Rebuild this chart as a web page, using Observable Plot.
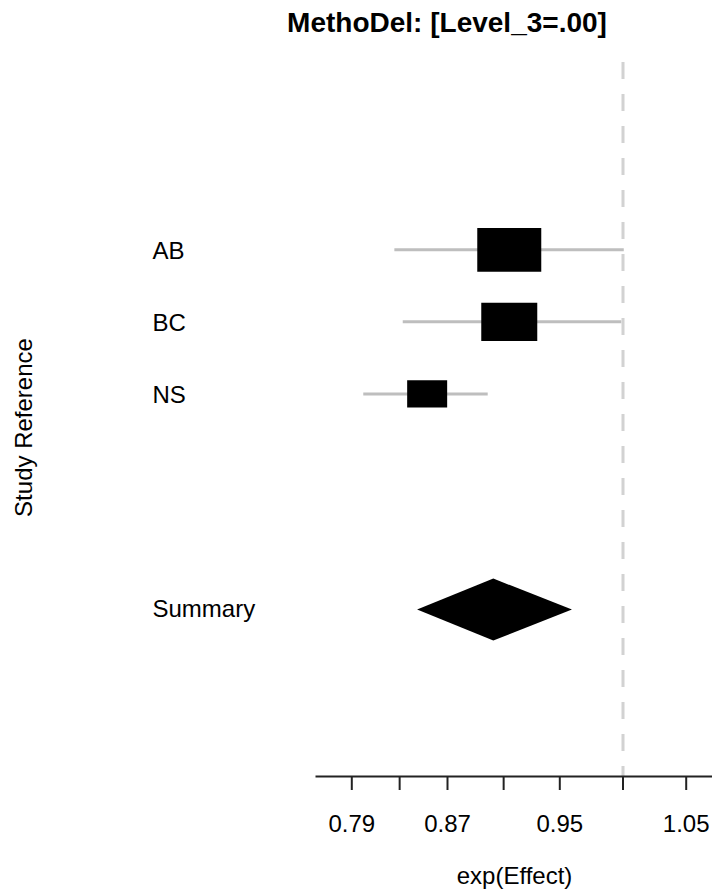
<!DOCTYPE html>
<html><head><meta charset="utf-8">
<script src="https://cdn.jsdelivr.net/npm/d3@7"></script>
<script src="https://cdn.jsdelivr.net/npm/@observablehq/plot@0.6"></script>
<style>
body{margin:0;background:#fff;}
#title{width:712px;height:45px;box-sizing:border-box;padding-left:182px;text-align:center;font:bold 28px "Liberation Sans",Arial,sans-serif;line-height:45px;color:#000;white-space:nowrap;}
</style></head><body>
<div id="title"></div>
<div id="chart"></div>
<script>
// ---- data ----
const titleText = "MethoDel: [Level_3=.00]";
const studies = ["AB", "BC", "NS"];
const estimate = [0.914, 0.914, 0.853];
const lower = [0.826, 0.833, 0.800];
const upper = [1.001, 0.999, 0.899];
const boxWeight = [1.0, 0.875, 0.625];
const summaryLabel = "Summary";
const summaryEstimate = 0.903;
const summaryLower = 0.845;
const summaryUpper = 0.960;
const tickValues = [0.79, 0.83, 0.87, 0.91, 0.95, 1.00, 1.05];
const tickLabels = ["0.79", "", "0.87", "", "0.95", "", "1.05"];
const labeledTicks = [0.79, 0.87, 0.95, 1.05];
const nullValue = 1;
const xLabel = "exp(Effect)";
const yLabel = "Study Reference";

document.getElementById("title").textContent = titleText;

const rows = studies.map((s, i) => ({study: s, row: i, est: estimate[i], lo: lower[i], hi: upper[i], w: boxWeight[i]}));
const summaryRow = studies.length + 2;
const diamondHalf = 0.43;
const diamond = [
  {y: summaryRow - diamondHalf, x1: summaryEstimate, x2: summaryEstimate},
  {y: summaryRow, x1: summaryLower, x2: summaryUpper},
  {y: summaryRow + diamondHalf, x1: summaryEstimate, x2: summaryEstimate}
];
const labelOf = new Map(tickValues.map((v, i) => [v, tickLabels[i]]));

const boxSymbol = {
  draw(context, size) {
    const r = Math.sqrt(size / Math.PI);
    const h = r / 1.46;
    context.rect(-r, -h, 2 * r, 2 * h);
  }
};

const font = '"Liberation Sans", Arial, sans-serif';

const chart = Plot.plot({
  width: 712,
  height: 848,
  marginTop: 17,
  marginBottom: 117,
  marginLeft: 316,
  marginRight: 0,
  style: {fontFamily: font, fontSize: "24px", color: "#000", background: "#fff"},
  x: {type: "linear", domain: labeledTicks, range: [351.3, 447, 559.3, 685.7]},
  y: {domain: [-2.6, 7.31], reverse: true, axis: null},
  r: {type: "linear", domain: [0, 1], range: [0, 32]},
  marks: [
    Plot.ruleX([nullValue], {stroke: "#d2d2d2", strokeWidth: 3, strokeDasharray: "17,15"}),
    Plot.frame({anchor: "bottom", stroke: "#222", strokeWidth: 2}),
    Plot.axisX(tickValues, {
      tickSize: 14, tickPadding: 24, strokeWidth: 2, stroke: "#222",
      tickFormat: d => labelOf.get(d), label: null, fill: "#000"
    }),
    Plot.ruleY(rows, {y: "row", x1: "lo", x2: "hi", stroke: "#bebebe", strokeWidth: 3}),
    Plot.dot(rows, {x: "est", y: "row", r: "w", symbol: boxSymbol, fill: "black", stroke: "none"}),
    Plot.areaX(diamond, {y: "y", x1: "x1", x2: "x2", fill: "black", curve: "linear"}),
    Plot.text(rows, {y: "row", text: "study", frameAnchor: "left", textAnchor: "start", dx: -164, dy: 1, fill: "#000"}),
    Plot.text([summaryLabel], {y: [summaryRow], text: d => d, frameAnchor: "left", textAnchor: "start", dx: -164, dy: -1, fill: "#000"}),
    Plot.text([xLabel], {text: d => d, frameAnchor: "bottom", dy: 107, fill: "#000"}),
    Plot.text([yLabel], {text: d => d, frameAnchor: "left", textAnchor: "middle", rotate: -90, dx: -292, dy: 8, fill: "#000"})
  ]
});
document.getElementById("chart").appendChild(chart);
</script>
</body></html>
